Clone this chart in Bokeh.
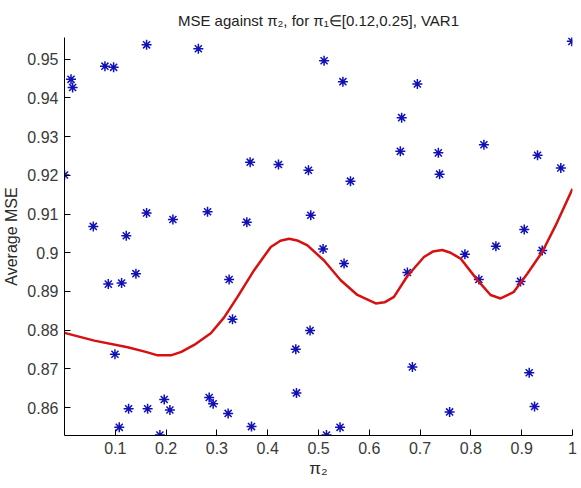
from bokeh.plotting import figure
from bokeh.models import FixedTicker, Range1d
from bokeh.embed import file_html
from bokeh.resources import INLINE

# scatter points (pi_2, average MSE)
pi2_pts = [0.0128, 0.016, 0.0796, 0.0967, 0.1616, 0.2635, 0.0, 0.0567, 0.1216, 0.1616,
           0.2134, 0.511, 0.548, 0.3654, 0.4212, 0.4802, 0.5629, 0.2816, 0.3589, 0.4848,
           0.509, 0.9987, 0.6946, 0.6637, 0.6611, 0.7359, 0.7384, 0.8256, 0.9312, 0.977,
           0.905, 0.8492, 0.9404, 0.7882, 0.0862, 0.1124, 0.1406, 0.0993, 0.1262, 0.1636,
           0.1963, 0.2075, 0.1078, 0.1878, 0.5503, 0.3241, 0.3307, 0.4834, 0.4553, 0.4566,
           0.2848, 0.2926, 0.3221, 0.3681, 0.5157, 0.5424, 0.675, 0.8157, 0.8977, 0.6848,
           0.9148, 0.7581, 0.9253]
mse_pts = [0.9448, 0.9427, 0.9482, 0.9479, 0.9537, 0.9527, 0.9201, 0.9068, 0.9044, 0.9103,
           0.9086, 0.9496, 0.9442, 0.9234, 0.9228, 0.9213, 0.9185, 0.9106, 0.9079, 0.9097,
           0.9010, 0.9546, 0.9436, 0.9349, 0.9262, 0.9258, 0.9203, 0.9279, 0.9252, 0.9219,
           0.9060, 0.9017, 0.9006, 0.8996, 0.8919, 0.8922, 0.8946, 0.8738, 0.8597, 0.8597,
           0.8621, 0.8594, 0.8549, 0.8529, 0.8972, 0.8931, 0.8828, 0.8799, 0.8751, 0.8638,
           0.8626, 0.8610, 0.8585, 0.8551, 0.8529, 0.8549, 0.8949, 0.8931, 0.8926, 0.8705,
           0.8690, 0.8589, 0.8603]

# fitted curve
pi2_fit = [0.000, 0.0587, 0.1243, 0.1600, 0.1833, 0.2094, 0.2300, 0.2553, 0.288, 0.3143,
           0.3406, 0.3733, 0.4061, 0.4250, 0.4421, 0.4600, 0.4783, 0.5109, 0.5437, 0.5766,
           0.6126, 0.6300, 0.6486, 0.675, 0.7076, 0.7250, 0.7437, 0.7600, 0.7797, 0.8126,
           0.8387, 0.8584, 0.8846, 0.911, 0.9404, 0.9666, 1.0]
mse_fit = [0.8793, 0.8773, 0.8756, 0.8744, 0.8735, 0.8735, 0.8744, 0.8762, 0.8792, 0.8833,
           0.8886, 0.8955, 0.9015, 0.9031, 0.9036, 0.9031, 0.9019, 0.8980, 0.8929, 0.8891,
           0.8869, 0.8872, 0.8886, 0.8940, 0.8989, 0.9003, 0.9007, 0.9000, 0.8985, 0.8930,
           0.8891, 0.8882, 0.8899, 0.8946, 0.9002, 0.9070, 0.9165]

x_ticks = [0.1, 0.2, 0.3, 0.4, 0.5, 0.6, 0.7, 0.8, 0.9, 1.0]
x_tick_labels = ["0.1", "0.2", "0.3", "0.4", "0.5", "0.6", "0.7", "0.8", "0.9", "1"]
y_ticks = [0.86, 0.87, 0.88, 0.89, 0.90, 0.91, 0.92, 0.93, 0.94, 0.95]
y_tick_labels = ["0.86", "0.87", "0.88", "0.89", "0.9", "0.91", "0.92", "0.93", "0.94", "0.95"]

p = figure(width=578, height=480, output_backend="svg", toolbar_location=None,
           x_range=Range1d(0, 1), y_range=Range1d(0.8528, 0.9556),
           min_border_left=63, min_border_right=6, min_border_top=37, min_border_bottom=42,
           title="MSE against \u03c0\u2082, for \u03c0\u2081\u2208[0.12,0.25], VAR1")

p.title.align = "center"
p.title.text_font = "Liberation Sans"
p.title.text_font_size = "15px"
p.title.text_font_style = "normal"
p.title.text_color = "#222222"
p.title.standoff = 18
p.title.offset = 12

p.outline_line_color = None
p.xgrid.visible = False
p.ygrid.visible = False
p.background_fill_color = "white"
p.border_fill_color = "white"

for ax in (p.xaxis[0], p.yaxis[0]):
    ax.major_tick_in = 6
    ax.major_tick_out = 0
    ax.minor_tick_in = 0
    ax.minor_tick_out = 0
    ax.axis_line_color = "black"
    ax.major_tick_line_color = "black"
    ax.major_label_text_font = "Liberation Sans"
    ax.major_label_text_font_size = "16px"
    ax.major_label_text_color = "#3a3a3a"
    ax.axis_label_text_font = "Liberation Sans"
    ax.axis_label_text_font_style = "normal"
    ax.axis_label_text_color = "#2a2a2a"

p.xaxis.ticker = FixedTicker(ticks=x_ticks)
p.xaxis.major_label_overrides = dict(zip(x_ticks, x_tick_labels))
p.yaxis.ticker = FixedTicker(ticks=y_ticks)
p.yaxis.major_label_overrides = dict(zip(y_ticks, y_tick_labels))

p.xaxis.axis_label = "\u03c0\u2082"
p.xaxis.axis_label_text_font_size = "17px"
p.xaxis.axis_label_standoff = 2
p.xaxis.major_label_standoff = 6
p.yaxis.axis_label = "Average MSE"
p.yaxis.axis_label_text_font_size = "16px"
p.yaxis.axis_label_standoff = 4
p.yaxis.major_label_standoff = 6

p.scatter(pi2_pts, mse_pts, marker="asterisk", size=10, line_color="#1010b8", line_width=1.5)
p.line(pi2_fit, mse_fit, line_color="#d81010", line_width=2.5)

open("out.html", "w").write(file_html(p, INLINE))
